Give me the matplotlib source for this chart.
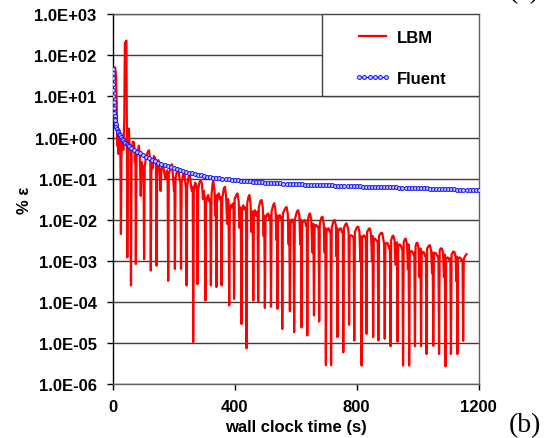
import numpy as np
import matplotlib
matplotlib.use("Agg")
import matplotlib.pyplot as plt
from matplotlib.patches import Rectangle

# ---------------- data ----------------
lbm_time = [4, 8, 11, 13, 15, 17, 19, 21, 23, 25, 27, 29, 32, 35, 38, 40, 45, 46.5, 48, 50,
            53, 56, 58, 60, 62, 66, 70, 73, 74.5, 76, 78, 83, 86, 89, 92, 95, 99, 101, 103, 105,
            110, 115, 119, 122, 123.5, 125, 127, 131, 135, 139, 142, 144, 146, 150, 154, 157, 160, 165, 170, 174,
            178, 180, 182, 184, 189, 194, 198, 201, 202.5, 204, 206, 211, 215, 219, 222, 224, 226, 231, 235, 238,
            240, 242, 244, 249, 253, 257, 260, 262.5, 264, 266, 270, 274, 276.5, 278, 280, 284, 289, 293, 296, 299,
            302, 304, 306, 310, 313, 316, 320, 322, 324, 328, 330, 334, 336, 338, 340, 342, 345, 348, 352, 355,
            357, 359, 364, 368, 372, 375, 378, 380, 382, 384, 388, 392, 396, 398, 400, 405, 409, 413, 416, 420,
            422, 424, 428, 432, 437, 439, 441, 445, 448, 452, 455, 459, 461, 463, 466, 470, 475, 477, 479, 484,
            488, 492, 495, 497, 499, 501, 506, 510, 514, 517, 519, 521, 526, 530, 534, 537, 538.5, 540, 542, 546,
            548, 552, 554.5, 556, 558, 566, 570, 574, 577, 579, 581, 583, 587, 590, 593, 595, 597, 604, 608, 612,
            615, 617, 619, 621, 626, 630, 634, 636.5, 638, 640, 644, 647, 651, 655, 658, 660, 662, 666, 670, 675,
            677, 679, 684, 688, 692, 695, 697, 699, 701, 705, 708, 712, 714.5, 716, 718, 724, 728, 732, 734, 735.5,
            737, 739, 745, 748, 752, 754.5, 756, 758, 764, 767, 771, 773.5, 775, 777, 782, 786, 790, 792, 794, 801,
            805, 809, 812, 814, 816, 818, 823, 826, 830, 832, 834, 840, 843, 847, 850, 852, 854, 856, 860, 864,
            869, 871, 873, 880, 884, 888, 890, 892, 894, 898, 902, 906, 909, 911, 913, 917, 920, 924, 927, 932,
            934, 936, 940, 944, 948, 950, 952, 954, 958, 961, 965, 968, 970, 972, 974, 978, 982, 987, 989, 991,
            993, 996, 999, 1003, 1006, 1009, 1011, 1013, 1017, 1021, 1025, 1027, 1029, 1031, 1037, 1040, 1044, 1047, 1049, 1051,
            1053, 1056, 1060, 1065, 1068, 1070, 1072, 1075, 1079, 1083, 1086, 1089, 1091, 1093, 1097, 1101, 1105, 1107, 1109, 1111,
            1116, 1120, 1124, 1127, 1128.5, 1130, 1132, 1136, 1140, 1145, 1147, 1149, 1151, 1156, 1160]
# log10 of % error for LBM
lbm_log10 = [1.67, 1.71, 1.5, 0.9, -0.2, 0.3, -0.4, 0.1, -0.3, -0.1, -2.35, -0.2, -0.05, -0.3, 0.46, 2.3, 2.36, 0.3, -2.92, -0.1,
             0.22, -0.3, -0.2, -3.6, -0.3, -0.1, -0.12, -0.6, -0.4, -3.08, -0.5, -0.3, -0.2, -0.45, -1.42, -0.6, -0.8, -0.7, -2.96, -0.7,
             -0.45, -0.35, -0.31, -0.5, -0.6, -3.24, -0.6, -0.75, -0.45, -0.5, -0.7, -3.12, -0.6, -0.55, -0.9, -1.3, -0.75, -0.65, -0.9, -1.0,
             -0.8, -0.9, -3.49, -0.9, -0.75, -0.65, -0.95, -1.3, -1.0, -3.2, -1.0, -0.8, -0.75, -1.0, -1.1, -3.2, -1.1, -0.9, -0.85, -1.1,
             -1.2, -3.6, -1.2, -0.95, -0.9, -1.2, -1.3, -1.2, -4.98, -1.3, -1.1, -1.15, -1.3, -3.57, -1.3, -1.1, -1.03, -1.15, -1.5, -1.3,
             -1.5, -3.97, -1.6, -1.45, -1.4, -1.55, -1.5, -3.6, -1.4, -1.1, -1.07, -1.3, -1.9, -1.4, -3.64, -1.6, -1.4, -1.36, -1.5, -1.45,
             -3.6, -1.5, -1.25, -1.2, -1.45, -2.1, -1.5, -1.6, -4.09, -1.8, -1.64, -1.7, -1.6, -3.93, -1.5, -1.4, -1.36, -1.55, -2.2, -1.7,
             -4.54, -1.8, -1.65, -1.75, -1.7, -5.13, -1.6, -1.45, -1.4, -1.6, -2.3, -1.8, -3.97, -1.9, -1.77, -1.9, -1.8, -4.0, -1.7, -1.55,
             -1.52, -1.7, -2.4, -1.9, -4.15, -2.0, -1.87, -1.85, -2.0, -1.9, -4.12, -1.8, -1.65, -1.6, -1.8, -2.5, -1.9, -4.17, -2.0, -1.9,
             -1.89, -2.0, -1.95, -4.66, -1.85, -1.72, -1.69, -1.85, -2.6, -2.0, -4.23, -2.1, -2.0, -2.0, -2.1, -4.74, -2.0, -1.8, -1.77, -1.9,
             -2.6, -2.0, -4.62, -2.1, -2.02, -2.01, -2.15, -2.1, -4.82, -2.0, -1.87, -1.85, -2.0, -2.8, -2.1, -4.33, -2.2, -2.13, -2.15, -2.2,
             -4.48, -2.1, -1.95, -1.93, -2.1, -2.8, -2.2, -5.54, -2.3, -2.22, -2.21, -2.3, -2.3, -5.54, -2.2, -2.03, -2.01, -2.15, -2.9, -2.2,
             -4.86, -2.3, -2.22, -2.21, -2.3, -2.3, -5.23, -2.2, -2.1, -2.09, -2.2, -2.3, -4.56, -2.4, -2.38, -2.4, -2.45, -4.94, -2.3, -2.18,
             -2.17, -2.3, -3.0, -2.4, -5.55, -2.45, -2.38, -2.4, -2.45, -4.78, -2.3, -2.22, -2.21, -2.35, -3.0, -2.4, -4.86, -2.5, -2.46, -2.5,
             -2.55, -4.94, -2.4, -2.32, -2.33, -2.5, -2.6, -4.9, -2.6, -2.56, -2.58, -2.7, -2.65, -5.08, -2.5, -2.4, -2.39, -2.5, -3.1, -2.55,
             -4.97, -2.65, -2.6, -2.62, -2.7, -2.7, -5.55, -2.55, -2.47, -2.46, -2.6, -3.2, -2.6, -5.55, -2.8, -2.76, -2.78, -2.85, -2.8, -5.08,
             -2.65, -2.57, -2.56, -2.7, -3.4, -2.7, -5.08, -2.85, -2.78, -2.8, -2.9, -2.9, -5.27, -2.7, -2.63, -2.62, -2.75, -3.3, -2.8, -5.07,
             -2.85, -2.8, -2.82, -2.9, -2.9, -5.27, -2.75, -2.7, -2.7, -2.8, -3.4, -2.85, -5.57, -2.95, -2.92, -2.93, -3.0, -2.95, -5.27, -2.85,
             -2.78, -2.78, -2.9, -3.5, -2.9, -5.27, -2.95, -2.92, -2.93, -3.0, -3.0, -4.95, -2.95, -2.88, -2.84]

fluent_time = [0, 0.5, 1, 1.5, 2, 2.5, 3, 4, 5, 6, 7, 8, 10, 12, 14, 16, 18, 20, 23, 26,
               30, 34, 38, 42, 46, 50, 55, 60] + list(range(70, 1201, 10))
fluent_value = [47, 38, 28, 20, 14, 10, 7.5, 5.2, 4.0, 3.3, 2.9, 2.6, 2.1, 1.8, 1.6, 1.45, 1.35, 1.25, 1.12, 1.02,
                0.93, 0.85, 0.79, 0.74, 0.69, 0.65, 0.61, 0.57,
                0.50, 0.45, 0.41, 0.37, 0.34, 0.31, 0.285, 0.265, 0.245, 0.23,
                0.215, 0.20, 0.19, 0.18, 0.17, 0.16, 0.153, 0.146, 0.14, 0.134,
                0.128, 0.123, 0.119, 0.115, 0.112, 0.109, 0.106, 0.104, 0.102, 0.100,
                0.098, 0.096, 0.094, 0.092, 0.090, 0.089, 0.087, 0.086, 0.085, 0.084,
                0.083, 0.082, 0.081, 0.080, 0.079, 0.078, 0.077, 0.077, 0.076, 0.075,
                0.075, 0.074, 0.073, 0.073, 0.072, 0.072, 0.071, 0.071, 0.070, 0.070,
                0.070, 0.069, 0.069, 0.068, 0.068, 0.068, 0.067, 0.067, 0.067, 0.066,
                0.066, 0.066, 0.065, 0.065, 0.065, 0.064, 0.064, 0.064, 0.063, 0.063,
                0.063, 0.062, 0.062, 0.062, 0.061, 0.061, 0.061, 0.060, 0.060, 0.060,
                0.060, 0.059, 0.059, 0.059, 0.058, 0.058, 0.058, 0.057, 0.057, 0.057,
                0.056, 0.056, 0.056, 0.055, 0.055, 0.055, 0.054, 0.054, 0.054, 0.054,
                0.053, 0.053, 0.053, 0.053]

x_ticks = [0, 400, 800, 1200]
y_ticks = [1e-6, 1e-5, 1e-4, 1e-3, 1e-2, 1e-1, 1e0, 1e1, 1e2, 1e3]
y_tick_labels = ["1.0E-06", "1.0E-05", "1.0E-04", "1.0E-03", "1.0E-02",
                 "1.0E-01", "1.0E+00", "1.0E+01", "1.0E+02", "1.0E+03"]
series_labels = ["LBM", "Fluent"]

# ---------------- plot ----------------
plt.rcParams['font.family'] = ['Liberation Sans', 'DejaVu Sans']
plt.rcParams['font.weight'] = 'bold'

fig = plt.figure(figsize=(5.51, 4.39), dpi=100)
ax = fig.add_axes([0.2045, 0.1230, 0.6643, 0.8422])

lbm_value = 10.0 ** np.array(lbm_log10)
ax.plot(lbm_time, lbm_value, color='#ff0000', lw=1.6, zorder=4, label=series_labels[0])
ax.plot(fluent_time, fluent_value, color='#1010ff', lw=0.8, marker='o', ms=2.8,
        mfc='#c8c8ff', mec='#1010ff', mew=0.7, zorder=5, label=series_labels[1])

ax.set_yscale('log')
ax.set_xlim(0, 1200)
ax.set_ylim(1e-6, 1e3)
ax.set_xticks(x_ticks)
ax.set_xticklabels([str(v) for v in x_ticks])
ax.set_yticks(y_ticks)
ax.set_yticklabels(y_tick_labels)
ax.minorticks_off()
ax.yaxis.set_minor_locator(matplotlib.ticker.NullLocator())

for y in y_ticks:
    ax.axhline(y, color='#3c3c3c', lw=1.0, zorder=1)

for s in ['top', 'right', 'bottom']:
    ax.spines[s].set_color('#606060')
    ax.spines[s].set_linewidth(1.0)
ax.spines['left'].set_color('black')
ax.spines['left'].set_linewidth(1.0)

ax.tick_params(axis='both', direction='out', length=4.5, width=1.0, colors='black',
               labelsize=12)
ax.tick_params(axis='y', pad=7)
ax.tick_params(axis='x', pad=6.5)

ax.set_xlabel("wall clock time (s)", fontsize=12, fontweight='bold')
ax.xaxis.set_label_coords(0.5, -0.095)
ax.set_ylabel("% ε", fontsize=12, fontweight='bold')
ax.yaxis.set_label_coords(-0.22, 0.5)

# legend box
box = Rectangle((0.572, 0.779), 0.428, 0.221, transform=ax.transAxes,
                facecolor='white', edgecolor='#404040', lw=1.0, zorder=6)
ax.add_patch(box)
leg = ax.legend(loc='center', bbox_to_anchor=(0.785, 0.882), frameon=False,
                handlelength=2.2, handletextpad=0.35, labelspacing=1.55,
                numpoints=6, prop={'weight': 'bold', 'size': 12})
leg.set_zorder(7)

fig.text(0.952, 0.030, "(b)", fontsize=20, fontfamily='Liberation Serif',
         fontweight='normal', ha='center', va='center')
fig.text(0.952, 1.018, "(a)", fontsize=20, fontfamily='Liberation Serif',
         fontweight='normal', ha='center', va='center')

fig.savefig("out.png", dpi=100)
